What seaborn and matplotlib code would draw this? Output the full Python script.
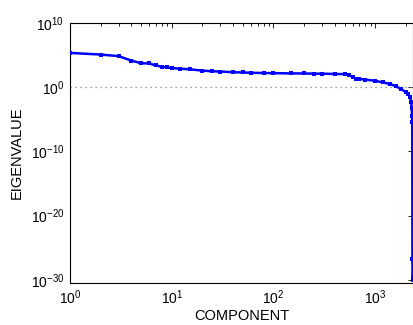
import numpy as np
import pandas as pd
import seaborn as sns
import matplotlib.pyplot as plt
from matplotlib.ticker import FixedLocator, NullLocator, LogLocator

components = [1, 2, 3, 4, 5, 6, 7, 8, 9, 10, 12, 15, 20, 25, 30, 40, 50, 60, 80,
              100, 150, 200, 250, 300, 400, 500, 550, 600, 650, 700, 800, 1000,
              1200, 1400, 1600, 1800, 2000, 2100, 2200, 2250, 2280, 2300, 2310,
              2320, 2324, 2327, 2330]
eigenvalues = [2.0e5, 1.1e5, 6.3e4, 1.3e4, 5.0e3, 4.5e3, 2.2e3, 1.4e3, 1.1e3, 9.0e2,
               7.0e2, 5.6e2, 3.5e2, 2.8e2, 2.5e2, 2.0e2, 1.8e2, 1.6e2, 1.5e2,
               1.4e2, 1.3e2, 1.25e2, 1.2e2, 1.17e2, 1.05e2, 1.0e2, 8.0e1, 3.2e1,
               2.0e1, 1.8e1, 1.4e1, 9.0, 5.0, 2.8, 1.3, 0.45, 0.16, 0.08, 0.025,
               5e-3, 6e-4, 3e-5, 3e-6, 1.6e-27, 3e-30, 1.6e-30, 1.1e-30]

yticks = [1e-30, 1e-20, 1e-10, 1e0, 1e10]

df = pd.DataFrame({'COMPONENT': components, 'EIGENVALUE': eigenvalues})

sns.set_style('white')
plt.rcParams['font.family'] = ['Liberation Sans', 'DejaVu Sans']
plt.rcParams['mathtext.default'] = 'regular'
plt.rcParams['text.color'] = 'black'
plt.rcParams['axes.labelcolor'] = 'black'

fig = plt.figure(figsize=(4.14, 3.25), dpi=100)
ax = fig.add_axes([70 / 414, 1 - 283 / 325, 343 / 414, (283 - 22.7) / 325])

ax.set_xscale('log')
ax.set_yscale('log')

# dotted reference line at eigenvalue = 1
ax.axhline(1.0, color='#808080', linestyle=(0, (1, 3)), linewidth=0.9, zorder=1)

sns.lineplot(data=df, x='COMPONENT', y='EIGENVALUE', ax=ax, color='#0000ff',
             linewidth=1.8, marker='s', markersize=3, markeredgewidth=0,
             estimator=None, sort=False, zorder=3)

ax.set_xlim(1, 2350)
ax.set_ylim(10 ** -30.5, 1e10)

ax.yaxis.set_major_locator(FixedLocator(yticks))
ax.yaxis.set_minor_locator(NullLocator())
ax.xaxis.set_major_locator(LogLocator(base=10))
ax.xaxis.set_minor_locator(LogLocator(base=10, subs=np.arange(2, 10)))

ax.tick_params(which='both', direction='in', top=True, right=True,
               color='black', labelcolor='black', labelsize=10, width=0.6)
ax.tick_params(which='major', length=3.5, pad=4)
ax.tick_params(which='minor', length=2)

for s in ax.spines.values():
    s.set_color('black')
    s.set_linewidth(0.8)

ax.set_xlabel('COMPONENT', fontsize=10.5, labelpad=1)
ax.set_ylabel('EIGENVALUE', fontsize=10.5, labelpad=5)

fig.savefig('out.png', dpi=100)
